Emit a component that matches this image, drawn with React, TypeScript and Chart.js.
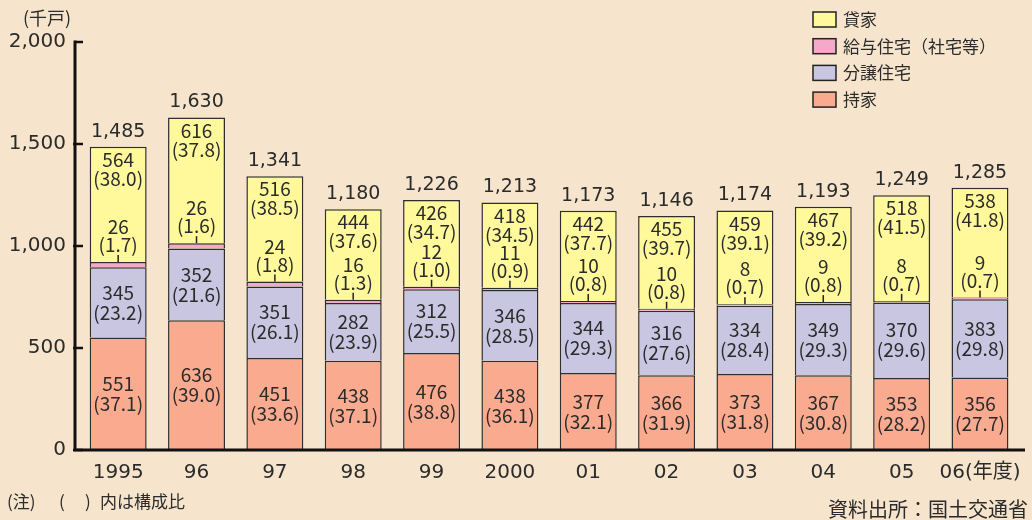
import React, { useEffect, useRef } from "react";
import { Chart, registerables } from "chart.js";

Chart.register(...registerables);

const categories = ["1995", "96", "97", "98", "99", "2000", "01", "02", "03", "04", "05", "06(年度)"];
const owned = [551, 636, 451, 438, 476, 438, 377, 366, 373, 367, 353, 356];
const ownedPct = ["37.1", "39.0", "33.6", "37.1", "38.8", "36.1", "32.1", "31.9", "31.8", "30.8", "28.2", "27.7"];
const condo = [345, 352, 351, 282, 312, 346, 344, 316, 334, 349, 370, 383];
const condoPct = ["23.2", "21.6", "26.1", "23.9", "25.5", "28.5", "29.3", "27.6", "28.4", "29.3", "29.6", "29.8"];
const company = [26, 26, 24, 16, 12, 11, 10, 10, 8, 9, 8, 9];
const companyPct = ["1.7", "1.6", "1.8", "1.3", "1.0", "0.9", "0.8", "0.8", "0.7", "0.8", "0.7", "0.7"];
const rental = [564, 616, 516, 444, 426, 418, 442, 455, 459, 467, 518, 538];
const rentalPct = ["38.0", "37.8", "38.5", "37.6", "34.7", "34.5", "37.7", "39.7", "39.1", "39.2", "41.5", "41.8"];
const totals = [1485, 1630, 1341, 1180, 1226, 1213, 1173, 1146, 1174, 1193, 1249, 1285];
const yTicks = [0, 500, 1000, 1500, 2000];

const BG = "#F6E5CC";
const TEXT = "#2b2b2b";
const FONT = "'Noto Sans CJK JP', sans-serif";
const NUMFONT = "'DejaVu Sans', 'Noto Sans CJK JP', sans-serif";
const fmt = (v: number) => v.toLocaleString("en-US");

const annotatePlugin = {
  id: "annotate",
  beforeDraw(chart: any) {
    const { ctx, width, height } = chart;
    ctx.save();
    ctx.fillStyle = BG;
    ctx.fillRect(0, 0, width, height);
    ctx.restore();
  },
  afterDatasetsDraw(chart: any) {
    const { ctx, chartArea } = chart;
    const yScale = chart.scales.y;
    ctx.save();
    ctx.fillStyle = TEXT;
    ctx.strokeStyle = "#222";
    ctx.textAlign = "center";
    ctx.textBaseline = "middle";
    const m0 = chart.getDatasetMeta(0);
    const m1 = chart.getDatasetMeta(1);
    const m2 = chart.getDatasetMeta(2);
    const m3 = chart.getDatasetMeta(3);
    ctx.font = `19px ${FONT}`;
    for (let i = 0; i < categories.length; i++) {
      const e0 = m0.data[i];
      const mid0 = (e0.y + e0.base) / 2;
      ctx.fillText(String(owned[i]), e0.x, mid0 - 10);
      ctx.fillText(`(${ownedPct[i]})`, e0.x, mid0 + 10);
      const e1 = m1.data[i];
      const mid1 = (e1.y + e1.base) / 2;
      ctx.fillText(String(condo[i]), e1.x, mid1 - 10);
      ctx.fillText(`(${condoPct[i]})`, e1.x, mid1 + 10);
      const e2 = m2.data[i];
      ctx.lineWidth = 1.5;
      ctx.beginPath();
      ctx.moveTo(e2.x, e2.y);
      ctx.lineTo(e2.x, e2.y - 7);
      ctx.stroke();
      ctx.fillText(String(company[i]), e2.x, e2.y - 35);
      ctx.fillText(`(${companyPct[i]})`, e2.x, e2.y - 17);
      const e3 = m3.data[i];
      ctx.fillText(String(rental[i]), e3.x, e3.y + 13);
      ctx.fillText(`(${rentalPct[i]})`, e3.x, e3.y + 32);
    }
    ctx.font = `19px ${NUMFONT}`;
    for (let i = 0; i < categories.length; i++) {
      const e3 = m3.data[i];
      ctx.fillText(fmt(totals[i]), e3.x, e3.y - 15);
    }
    // axes
    const ax = chartArea.left - 4;
    const ay = chartArea.bottom;
    ctx.strokeStyle = "#111";
    ctx.lineWidth = 3;
    ctx.beginPath();
    ctx.moveTo(ax, yScale.getPixelForValue(2000) - 1.5);
    ctx.lineTo(ax, ay);
    ctx.lineTo(1025, ay);
    ctx.stroke();
    ctx.lineWidth = 2.5;
    for (const t of yTicks) {
      const py = yScale.getPixelForValue(t);
      ctx.beginPath();
      ctx.moveTo(t === 2000 ? ax : ax - 2, py);
      ctx.lineTo(ax + 8, py);
      ctx.stroke();
    }
    // axis title
    ctx.font = `18px ${FONT}`;
    ctx.fillStyle = TEXT;
    ctx.fillText("(千戸)", 47, 18);
    // legend (reverse order)
    const items = [3, 2, 1, 0];
    ctx.font = `17px ${FONT}`;
    ctx.textAlign = "left";
    items.forEach((di, k) => {
      const ds = chart.data.datasets[di];
      const cy = 19.5 + k * 26.7;
      ctx.fillStyle = ds.backgroundColor;
      ctx.fillRect(813, cy - 7.5, 23, 15);
      ctx.strokeStyle = "#222";
      ctx.lineWidth = 1.5;
      ctx.strokeRect(813, cy - 7.5, 23, 15);
      ctx.fillStyle = TEXT;
      ctx.fillText(ds.label, 843, cy);
    });
    // footnotes
    ctx.font = `17px ${FONT}`;
    ctx.fillText("(注)", 7, 502);
    ctx.fillText("(", 59, 502);
    ctx.fillText(")", 85, 502);
    ctx.fillText("内は構成比", 100, 502);
    ctx.font = `20px ${FONT}`;
    ctx.textAlign = "right";
    ctx.fillText("資料出所：国土交通省", 1028, 509);
    ctx.restore();
  },
};

export default function App() {
  const ref = useRef<HTMLCanvasElement | null>(null);
  useEffect(() => {
    document.body.style.margin = "0";
    document.body.style.background = BG;
    const canvas = ref.current;
    if (!canvas) return;
    const border = "#2e2e2e";
    const chart = new Chart(canvas, {
      type: "bar",
      data: {
        labels: categories,
        datasets: [
          { label: "持家", data: owned, backgroundColor: "#F9AA8F", borderColor: border, borderWidth: 1.5 },
          { label: "分譲住宅", data: condo, backgroundColor: "#C9C6E1", borderColor: border, borderWidth: 1.5 },
          { label: "給与住宅（社宅等）", data: company, backgroundColor: "#F4A9CB", borderColor: border, borderWidth: 1.5 },
          { label: "貸家", data: rental, backgroundColor: "#FFF99B", borderColor: border, borderWidth: 1.5 },
        ],
      },
      options: {
        animation: false,
        responsive: false,
        devicePixelRatio: 1,
        layout: { padding: { left: 0, right: 12, top: 42, bottom: 0 } },
        datasets: { bar: { categoryPercentage: 1, barPercentage: 0.727 } },
        plugins: { legend: { display: false }, tooltip: { enabled: false } },
        scales: {
          x: {
            stacked: true,
            grid: { display: false, drawTicks: false },
            border: { display: false },
            ticks: { color: TEXT, font: { family: NUMFONT, size: 20 }, padding: 11, maxRotation: 0, autoSkip: false },
            afterFit: (s: any) => { s.height = 70; },
          },
          y: {
            stacked: true,
            min: 0,
            max: 2000,
            grid: { display: false, drawTicks: false },
            border: { display: false },
            ticks: { stepSize: 500, color: TEXT, font: { family: NUMFONT, size: 20 }, padding: 13, callback: (v: any) => fmt(Number(v)) },
            afterFit: (s: any) => { s.width = 79; },
          },
        },
      },
      plugins: [annotatePlugin],
    });
    return () => chart.destroy();
  }, []);
  return (
    <div style={{ width: 1032, height: 520, background: BG }}>
      <canvas ref={ref} width={1032} height={520} style={{ display: "block" }} />
    </div>
  );
}
